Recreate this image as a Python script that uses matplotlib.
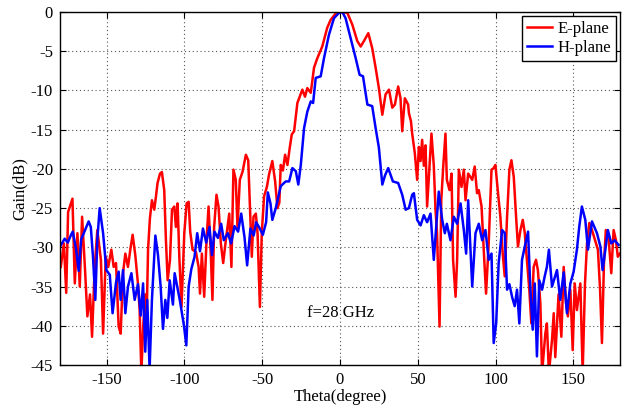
import numpy as np
import matplotlib
matplotlib.use("Agg")
import matplotlib.pyplot as plt

# E-plane (red)
theta_e = [
    -179.5, -177.5, -176, -174.8, -172, -170.5, -168.8, -167.3, -165.8, -164,
    -162.4, -160.7, -159.4, -157.7, -156, -153.7, -152.3, -150.6, -149, -147,
    -145.5, -144, -142.3, -141, -139.5, -138, -136.3, -134.6, -133.3, -131.6,
    -129.9, -128.8, -127.7, -126.5, -125.2, -124.5, -123.4, -122.2, -120.9, -119.4,
    -118.3, -117.3, -115.7, -114.5, -113, -111.9, -110.8, -109.3, -108, -106.5,
    -105.5, -104.4, -103.3, -101.9, -100.1, -98.6, -97.3, -96.3, -94.8, -92.6,
    -90.9, -90.0, -88.8, -87.3, -85.8, -84.5, -83, -82, -80.9, -79.4,
    -78.1, -76.6, -75.1, -73.4, -71.2, -69.8, -68.5, -67, -65.9, -64.4,
    -62.7, -60.5, -59, -58, -56.7, -55.6, -54.1, -53, -51.5, -50.3,
    -48.8, -47, -45.6, -43.5, -41.7, -40.2, -39, -38.1, -36.7, -35.3,
    -33.8, -32.3, -31, -29.5, -27.4, -24.2, -22.5, -21, -18.8, -16.7,
    -14.6, -11.4, -8.2, -6, -2.8, 0, 4.7, 7.9, 11.1, 13.3,
    15.4, 18.2, 20.7, 22.9, 25, 27.2, 29.3, 31.5, 33.6, 35.3,
    37.4, 38.9, 40, 41.7, 43.8, 44.3, 45.6, 46.4, 48.1, 49.6,
    50.7, 51.8, 52.8, 53.9, 55, 56, 57.5, 58.8, 60.3, 61.4,
    62.4, 64, 65.1, 66.4, 67.8, 68.7, 70.4, 71.7, 72.7, 74.3,
    75.3, 76.4, 78.1, 79.6, 80.7, 82.4, 85, 86.6, 88.1, 89.2,
    91, 92.4, 93.9, 95.6, 97.4, 98.8, 99.9, 101.6, 103.1, 104.6,
    105.9, 107.4, 108.9, 110.2, 111.7, 113.2, 114.4, 116, 117.5, 118.8,
    120.2, 121.7, 123, 124.5, 126, 127.2, 128.8, 129.9, 132, 133,
    134.3, 136.3, 137.4, 138.4, 140.5, 142.3, 143.8, 145.3, 146.5, 148.1,
    149.6, 150.9, 152.3, 154.5, 156, 157.5, 158.8, 160.3, 162, 165.8,
    167.2, 168.4, 169.7, 170.9, 172.6, 174.4, 175.9, 177.4, 178.6, 180,
]
gain_e = [
    -32.5, -29.5, -35.8, -25.5, -23.8, -34.6, -28.2, -35, -26.1, -32.5,
    -38.8, -36, -41.4, -32.5, -27.8, -31.6, -41.0, -31.2, -32.5, -30.3,
    -32.5, -32, -40.1, -41, -33.3, -30.8, -32.5, -30.0, -28.4, -31,
    -34.6, -38, -46, -40, -36, -41, -30.3, -26.3, -24.0, -25.2,
    -23.5, -21.8, -20.6, -20.4, -22.7, -29.1, -34.2, -31.6, -25.2, -24.8,
    -27.4, -24.4, -31.2, -37.6, -28.2, -24.4, -24.2, -28.0, -30.3, -30.6,
    -32.5, -35.9, -30.8, -36.3, -29.1, -24.8, -31.2, -36.7, -27.4, -23.3,
    -24.8, -29.5, -32.0, -29.1, -25.7, -32.5, -20.1, -21.4, -27.4, -21.4,
    -20.4, -18.2, -18.9, -24.4, -31.2, -26.1, -25.7, -28.2, -37.6, -28.2,
    -23.5, -22.3, -20.7, -19.0, -21.6, -25.0, -24.3, -19.5, -20.2, -18.2,
    -19.5, -17.3, -15.6, -15.2, -11.6, -9.9, -10.8, -9.7, -10.3, -7.1,
    -5.9, -4.4, -2.0, -1.0, -0.2, 0, -0.1, -1.6, -3.7, -4.4,
    -3.7, -2.7, -4.6, -7.1, -9.7, -13.1, -10.5, -9.9, -12.2, -11.8,
    -9.5, -11.0, -15.2, -11.0, -11.8, -12.9, -13.9, -15.5, -18.0, -21.4,
    -17.2, -19, -16.3, -19.6, -17, -24.8, -19.7, -15.5, -19.6, -25.2,
    -28.2, -40.1, -24.0, -19.6, -15.5, -21.4, -22.7, -20.6, -31.6, -36.3,
    -31.6, -20.1, -22.3, -20.1, -24.0, -20.6, -21.4, -19.7, -23.1, -22.7,
    -24.8, -30.3, -35.9, -29.5, -20.1, -19.9, -19.5, -23.1, -26.1, -30.8,
    -33.7, -26.1, -20.1, -18.9, -21.0, -26.1, -29.9, -27.8, -26.5, -28.2,
    -31.6, -35.4, -39.7, -32.5, -31.6, -32.9, -37.1, -46, -41.0, -39.7,
    -46, -41.8, -38.4, -44, -36, -41.4, -32.5, -37.1, -38.8, -35.4,
    -43.1, -34.6, -38, -34.6, -46, -34.6, -29.5, -26.9, -27.8, -30.3,
    -35.4, -42.2, -32, -27.8, -28.7, -33.3, -27.8, -29.1, -31.2, -30.8,
]

# H-plane (blue)
theta_h = [
    -180, -177, -175, -172.9, -171.8, -169.6, -168, -166.4, -164.3, -161.6,
    -160.2, -158.8, -157.3, -156, -154.5, -152.3, -150.2, -148, -146.2, -144,
    -142.3, -141, -139.5, -138, -136.3, -134.1, -132, -129.9, -128.1, -126.6,
    -125.2, -123.9, -122.4, -120.9, -118.7, -117, -115.3, -113.8, -112.3, -111,
    -109.5, -107.4, -106.3, -103, -100.3, -98.8, -97.3, -95.6, -93.5, -91.8,
    -90, -88.1, -86, -83.9, -82.3, -80.7, -78.5, -76.4, -74.7, -72.1,
    -70, -67.8, -65.5, -63.5, -61.4, -59.7, -57.6, -55.5, -53.9, -51.8,
    -49.6, -47.5, -46.4, -44.7, -43.5, -41.3, -38.1, -34.9, -32.7, -30.6,
    -28.4, -26.8, -25.2, -23.1, -21, -18.8, -17.3, -15.6, -12.4, -10.3,
    -7.1, -3.9, -0.6, 1.5, 3.6, 6.8, 10.1, 12.6, 14.8, 17.6,
    20.7, 22.9, 25, 27.2, 29, 31, 34, 37.4, 40, 42.2,
    44.3, 46.4, 47.5, 49.6, 51.8, 53.9, 56, 58.2, 60.3, 62,
    63.5, 65.7, 67.4, 68.7, 71, 73.2, 75.3, 77.5, 79.6, 81.1,
    82.4, 85, 87.1, 89.2, 91.4, 93.5, 95.6, 97.4, 98.8, 100.4,
    102, 104.2, 105.9, 107.4, 108.9, 110.6, 112.3, 113.8, 115.3, 117,
    118.8, 120.9, 122.4, 123.9, 125.2, 126.6, 128.1, 129.9, 131.6, 133,
    134.3, 136.3, 139.5, 141.6, 143.8, 145.9, 148.1, 150.2, 152.3, 153.8,
    155.5, 157.7, 159.4, 162, 165.2, 167.4, 168.8, 170.6, 172.2, 174.4,
    176.5, 179.1,
]
gain_h = [
    -29.9, -28.9, -29.4, -28.4, -28.0, -30.3, -33.0, -29.0, -28.0, -26.7,
    -27.4, -31.2, -36.7, -29, -25.0, -28.2, -32.9, -33.5, -38.4, -34.5,
    -33.1, -36.7, -32.9, -38.4, -35, -33.3, -36.7, -34.7, -38.7, -34.6,
    -43.3, -36.7, -45.5, -36.7, -28.5, -31, -35, -40.4, -36.7, -39,
    -34.2, -37.3, -33.3, -36.7, -40.0, -42.5, -35, -32.8, -31.2, -28.2,
    -30.5, -27.6, -29.4, -27.4, -31, -28, -28.8, -27, -29.1, -28.2,
    -29.5, -27.3, -28, -25.7, -28.7, -32.3, -27.6, -28.5, -26.8, -27.5,
    -28.4, -26.8, -23.0, -24.4, -26.5, -25.0, -22.2, -21.6, -21.6, -19.9,
    -20.3, -22.0, -19.5, -14.8, -12.7, -11.4, -11.6, -8.4, -8.2, -5.9,
    -2.9, -0.8, -0.1, 0, -0.8, -3.3, -5.9, -8.0, -8.2, -11.8,
    -12.0, -14.8, -17.3, -22.0, -20.8, -19.9, -21.6, -21.8, -23.3, -25.2,
    -25.0, -23.3, -23.1, -26.5, -27.2, -25.9, -26.8, -25.7, -31.6, -27,
    -22.9, -26.5, -28.2, -27, -29.1, -26.1, -27, -24.4, -27.8, -30.8,
    -24.0, -35.0, -28.2, -27.0, -29.1, -27.8, -31.6, -30.8, -42.2, -39.7,
    -32.0, -27.8, -28.2, -35.4, -34.7, -36.3, -37.5, -35.4, -39.7, -31.6,
    -29.9, -28.0, -35.4, -40.5, -34.6, -43.9, -34.2, -35.4, -33.7, -32.5,
    -30.3, -35, -32.9, -36.7, -33.2, -38.4, -34.6, -33.1, -30.3, -27.4,
    -24.8, -26.5, -30.3, -26.7, -28.2, -29.9, -32.9, -30.3, -27.8, -29.5,
    -29.1, -29.7,
]

x_ticks = [-150, -100, -50, 0, 50, 100, 150]
y_ticks = [0, -5, -10, -15, -20, -25, -30, -35, -40, -45]

plt.rcParams["font.family"] = ["Liberation Serif", "DejaVu Serif"]
plt.rcParams["font.size"] = 12
plt.rcParams["axes.unicode_minus"] = False

fig = plt.figure(figsize=(6.37, 4.12), dpi=100)
ax = fig.add_axes([0.0942, 0.1141, 0.8791, 0.8568])

ax.plot(theta_e, gain_e, color="#ff0000", lw=1.8, label="E-plane")
ax.plot(theta_h, gain_h, color="#0000ff", lw=1.8, label="H-plane")

ax.set_xlim(-180, 180)
ax.set_ylim(-45, 0)
ax.set_xticks(x_ticks)
ax.set_yticks(y_ticks)
ax.set_xticklabels([str(t) for t in x_ticks])
ax.set_yticklabels([str(t) for t in y_ticks])
ax.tick_params(direction="in", top=True, right=True, length=4, width=0.8, pad=5)
ax.grid(True, color="#555555", linestyle=(0, (1, 2.5)), linewidth=0.8)
for sp in ax.spines.values():
    sp.set_linewidth(1.0)
    sp.set_color("black")

ax.set_xlabel("Theta(degree)", labelpad=1)
ax.set_ylabel("Gain(dB)", labelpad=2)

ax.text(-21, -38.4, "f=28 GHz", ha="left", va="center")

leg = ax.legend(loc="upper right", fancybox=False, framealpha=1,
                edgecolor="black", borderaxespad=0.25, handlelength=1.5,
                handletextpad=0.3, labelspacing=0.15, borderpad=0.3)
leg.get_frame().set_linewidth(1.0)

fig.savefig("out.png", dpi=100)
